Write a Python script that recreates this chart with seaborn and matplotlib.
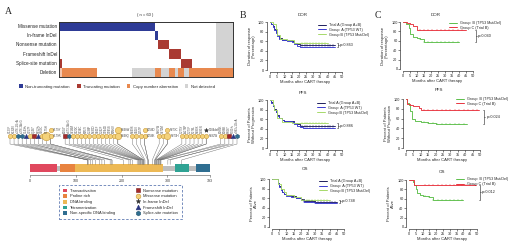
import numpy as np
import pandas as pd
import matplotlib
matplotlib.use("Agg")
import matplotlib.pyplot as plt
import seaborn as sns
from matplotlib.colors import ListedColormap
from matplotlib.patches import Patch, Rectangle
from matplotlib.lines import Line2D

sns.set_theme(style="white")
plt.rcParams['font.family'] = ['Liberation Sans', 'DejaVu Sans']

# ---------------- data: oncoprint ----------------
onco_rows = ["Missense mutation", "In-frame InDel", "Nonsense mutation",
             "Frameshift InDel", "Splice-site mutation", "Deletion"]
missense_row = "1" * 33 + "0" * 21 + "4" * 6
inframe_row = "0" * 33 + "1" + "0" * 20 + "4" * 6
nonsense_row = "0" * 34 + "2222" + "0" * 16 + "4" * 6
frameshift_row = "0" * 38 + "2222" + "0" * 12 + "4" * 6
splice_row = "2" + "0" * 41 + "2222" + "0" * 8 + "4" * 6
deletion_row = "5" + "3" * 12 + "0" * 12 + "4" * 8 + "33" + "444" + "33" + "4" + "33" + "44" + "3" * 15
onco_legend = ["Non-truncating mutation", "Truncating mutation", "Copy number aberration", "Not detected"]

# ---------------- data: lollipop ----------------
dom_names = ["Transactivation", "Proline rich", "DNA binding", "Tetramerization", "Non-specific DNA binding"]
dom_start = [1, 66, 98, 317, 362]
dom_end = [59, 98, 290, 347, 393]
mut_label = ["S127F", "K132N", "c.376-1G>A", "c.376-2A>G", "V143fs", "V157F", "Q136*", "P152fs", "Y163C",
             "R175H", "H179R", "H179Y", "E204*", "c.673-2A>G", "V216M", "Y220C", "Y234C", "M237I", "C238F",
             "N239D", "S241F", "C242F", "G244D", "G245S", "M246V", "R248Q", "R248W", "R249S", "I251N",
             "L257P", "E258K", "E258D", "R267W", "V272M", "R273H", "R273C", "C275Y", "A276P", "C277F",
             "P278L", "R280K", "D281N", "R282W", "T284del", "E285K", "E286K", "R306*", "P301fs", "c.993+1G>A"]
mut_pos = [127, 132, 125, 126, 143, 157, 136, 152, 163, 175, 179, 179, 204, 224, 216, 220, 234, 237, 238,
           239, 241, 242, 244, 245, 246, 248, 248, 249, 251, 257, 258, 258, 267, 272, 273, 273, 275, 276, 277,
           278, 280, 281, 282, 284, 285, 286, 306, 301, 331]
mut_type = ["mis", "mis", "spl", "spl", "frm", "mis", "non", "frm", "mis",
            "mis", "mis", "mis", "non", "spl", "mis", "mis", "mis", "mis", "mis",
            "mis", "mis", "mis", "mis", "mis", "mis", "mis", "mis", "mis", "mis",
            "mis", "mis", "mis", "mis", "mis", "mis", "mis", "mis", "mis", "mis",
            "mis", "mis", "mis", "mis", "inf", "mis", "mis", "non", "frm", "spl"]
mut_count = [1, 1, 1, 1, 1, 1, 1, 1, 1, 3, 1, 1, 1, 1, 1, 1, 1, 1, 1, 1, 1, 1, 1, 1, 1, 2, 2, 1, 1,
             1, 1, 1, 1, 1, 2, 1, 1, 1, 1, 1, 1, 1, 1, 1, 1, 1, 1, 1, 1]
mut_stack = [0, 0, 0, 0, 0, 0, 0, 0, 0, 0, 0, 1, 0, 0, 0, 0, 0, 0, 0, 0, 0, 0, 0, 0, 0, 0, 1, 0, 0,
             0, 0, 1, 0, 0, 0, 1, 0, 0, 0, 0, 0, 0, 0, 1, 0, 0, 0, 0, 0]

# ---------------- data: KM curves ----------------
months_ticks = [0, 5, 10, 15, 20, 25, 30, 35, 40, 45, 50]
pct_ticks = [0, 20, 40, 60, 80, 100]

b_dor_trialA_t = [0, 1, 2, 3, 4, 5, 6, 8, 12, 15, 17, 19, 21, 45]
b_dor_trialA_s = [100, 96, 92, 86, 80, 72, 66, 63, 62, 60, 57, 54, 52, 52]
b_dor_groupA_t = [0, 1, 2, 3, 4, 5, 6, 8, 12, 15, 17, 19, 21, 45]
b_dor_groupA_s = [100, 95, 90, 84, 78, 70, 65, 62, 61, 58, 55, 50, 47, 47]
b_dor_groupB_t = [0, 2, 4, 5, 7, 12, 17, 40]
b_dor_groupB_s = [100, 95, 85, 72, 65, 62, 56, 56]

b_pfs_trialA_t = [0, 1, 2, 3, 4, 5, 6, 8, 10, 15, 17, 19, 21, 23, 45]
b_pfs_trialA_s = [100, 95, 88, 82, 75, 68, 62, 58, 57, 56, 52, 49, 46, 45, 45]
b_pfs_groupA_t = [0, 1, 2, 3, 4, 5, 6, 8, 10, 15, 17, 19, 21, 23, 45]
b_pfs_groupA_s = [100, 94, 87, 80, 74, 67, 62, 58, 57, 55, 50, 46, 43, 41, 41]
b_pfs_groupB_t = [0, 2, 3, 5, 8, 15, 20, 40]
b_pfs_groupB_s = [100, 90, 80, 62, 55, 53, 52, 52]

b_os_trialA_t = [0, 4, 5, 6, 7, 8, 10, 13, 17, 20, 22, 30, 45]
b_os_trialA_s = [100, 92, 85, 79, 73, 69, 66, 64, 61, 58, 55, 53, 53]
b_os_groupA_t = [0, 4, 5, 6, 7, 8, 10, 13, 17, 20, 22, 30, 45]
b_os_groupA_s = [100, 91, 84, 78, 72, 68, 65, 63, 60, 57, 53, 50, 50]
b_os_groupB_t = [0, 4, 6, 8, 10, 15, 20, 40]
b_os_groupB_s = [100, 90, 80, 72, 66, 62, 57, 57]

c_dor_groupB_t = [0, 2, 4, 5, 7, 10, 12, 15, 40]
c_dor_groupB_s = [100, 96, 88, 74, 68, 65, 63, 58, 58]
c_dor_groupC_t = [0, 3, 5, 7, 10, 45]
c_dor_groupC_s = [100, 98, 95, 91, 84, 84]

c_pfs_groupB_t = [0, 1, 2, 3, 4, 6, 10, 15, 20, 41]
c_pfs_groupB_s = [100, 92, 88, 75, 60, 56, 54, 51, 49, 49]
c_pfs_groupC_t = [0, 1, 3, 5, 9, 10, 49]
c_pfs_groupC_s = [100, 90, 88, 85, 82, 78, 78]

c_os_groupB_t = [0, 3, 4, 5, 6, 8, 10, 15, 18, 40]
c_os_groupB_s = [100, 95, 90, 80, 73, 68, 65, 63, 58, 58]
c_os_groupC_t = [0, 4, 49]
c_os_groupC_s = [100, 90, 90]

censor_b = [22, 24, 26, 28, 30, 32, 34, 36, 38, 40, 42, 44]
censor_c = [12, 15, 18, 21, 24, 27, 30, 33, 36, 39, 42, 45, 48]

# ---------------- figure ----------------
W, H = 520, 245
fig = plt.figure(figsize=(W / 100, H / 100), dpi=100)


def axes_px(x0, y0, x1, y1):
    return fig.add_axes([x0 / W, 1 - y1 / H, (x1 - x0) / W, (y1 - y0) / H])


def ftext(x, y, s, **kw):
    fig.text(x / W, 1 - y / H, s, **kw)


serif = ['Liberation Serif', 'DejaVu Serif']
ftext(5, 12, "A", fontsize=7, family=serif, va='center')
ftext(240, 15, "B", fontsize=7, family=serif, va='center')
ftext(375, 15, "C", fontsize=7, family=serif, va='center')

# ---------- oncoprint ----------
navy, tred, orng, grey, pink = "#2E3B96", "#A93A32", "#E8894F", "#D3D3D3", "#F5C6AE"
mat = np.array([[int(c) for c in r] for r in
                [missense_row, inframe_row, nonsense_row, frameshift_row, splice_row, deletion_row]])
ax_on = axes_px(59, 22, 233, 77)
sns.heatmap(mat, cmap=ListedColormap(["white", navy, tred, orng, grey, pink]), vmin=-0.5, vmax=5.5,
            cbar=False, ax=ax_on, xticklabels=False, yticklabels=onco_rows)
for sp in ax_on.spines.values():
    sp.set_visible(True)
    sp.set_linewidth(0.7)
    sp.set_color("#333333")
ax_on.tick_params(axis='y', length=0, pad=1.5, labelsize=3.3, labelcolor="#222222")
ax_on.tick_params(axis='x', length=0)
ftext(145, 15, "( n = 60 )", fontsize=3, ha='center', va='center')
oh = [Patch(facecolor=c, edgecolor='none', label=l) for c, l in zip([navy, tred, orng, grey], onco_legend)]
fig.legend(handles=oh, loc='center', bbox_to_anchor=(117 / W, 1 - 86.5 / H), ncol=4, fontsize=3.1,
           frameon=False, handlelength=0.9, handleheight=0.9, columnspacing=1.6, handletextpad=0.5)

# ---------- lollipop ----------
PX0, PXS = 30.0, 0.458
def px2aa(p):
    return (p - PX0) / PXS

lol = axes_px(5, 108, 245, 186)
lol.set_xlim(px2aa(5), px2aa(245))
lol.set_ylim(186, 108)
lol.axis('off')
dom_colors = ["#E0485E", "#E8833F", "#EDB955", "#2FA394", "#2F6E91"]
lol.add_patch(Rectangle((1, 166), 392, 5, fc="#BDBDBD", ec='none'))
for s, e, c in zip(dom_start, dom_end, dom_colors):
    lol.add_patch(Rectangle((s, 164.5), e - s, 8, fc=c, ec='none'))
lol.plot([0, 393], [175.5, 175.5], color="#555555", lw=0.4)
for tk in [0, 100, 200, 300, 393]:
    lol.plot([tk, tk], [175.5, 177], color="#555555", lw=0.4)
    lol.text(tk, 180.5, str(tk), fontsize=2.6, ha='center', va='center', color="#333333")

mstyle = {"mis": ('o', "#F4D27A", "#C99A3A"), "non": ('s', "#A52A2A", "#7A1F1F"),
          "frm": ('^', "#2A3580", "#2A3580"), "inf": ('*', "#333333", "#333333"),
          "spl": ('h', "#2F6E91", "#24566F")}
groups = []
for i, st in enumerate(mut_stack):
    if st == 0:
        groups.append([i])
    else:
        groups[-1].append(i)
offs, cur = [], 0.0
for g in groups:
    offs.append(cur + 0.5)
    cur += 1.0 if len(g) == 1 else 3.6
offs = np.array(offs)
slot_px = 10 + (offs - offs.min()) / (offs.max() - offs.min()) * 227
for g, xp in zip(groups, slot_px):
    xa = px2aa(xp)
    for i in g:
        pos = mut_pos[i]
        lol.plot([xa, xa, pos, pos], [138.5, 144, 160, 164.5], color="#666666", lw=0.3, zorder=1)
    for k, i in enumerate(g):
        y = 136 - 6 * k
        m, fc, ec = mstyle[mut_type[i]]
        ms = 3.1 + 1.5 * (mut_count[i] - 1)
        lol.plot([xa], [y], marker=m, ms=ms, mfc=fc, mec=ec, mew=0.4, ls='none', zorder=3)
        if len(g) == 1:
            lol.text(xa, y - 3.2, mut_label[i], rotation=90, fontsize=2.0, ha='center', va='bottom',
                     color="#444444")
        else:
            lol.text(px2aa(xp + 2.4 + 0.6 * (mut_count[i] - 1)), y, mut_label[i], fontsize=2.0,
                     ha='left', va='center', color="#444444")

lh = [Patch(facecolor=c, edgecolor='none', label=n) for c, n in zip(dom_colors, dom_names)]
for lab, key in [("Nonsense mutation", "non"), ("Missense mutation", "mis"), ("In-frame InDel", "inf"),
                 ("Frameshift InDel", "frm"), ("Splice-site mutation", "spl")]:
    m, fc, ec = mstyle[key]
    lh.append(Line2D([], [], marker=m, ls='none', mfc=fc, mec=ec, ms=3.4, mew=0.4, label=lab))
leg = fig.legend(handles=lh, loc='center', bbox_to_anchor=(120.5 / W, 1 - 202 / H), ncol=2, fontsize=2.9,
                 frameon=True, fancybox=False, edgecolor="#3A5BA0", handlelength=1.0, handleheight=1.0,
                 borderpad=0.9, labelspacing=0.35, columnspacing=5, handletextpad=0.8)
leg.get_frame().set_linestyle((0, (3, 2)))
leg.get_frame().set_linewidth(0.6)


# ---------- KM panels ----------
def surv_at(t, s, x):
    idx = np.searchsorted(np.array(t), x, side='right') - 1
    return s[max(idx, 0)]


def km_axes(x0, x50, y100, y0):
    sx = (x50 - x0) / 50.0
    sy = (y0 - y100) / 100.0
    ax = axes_px(x0 - 2 * sx, y0 - 103 * sy, x0 + 51 * sx, y0 + 4 * sy)
    ax.set_xlim(-2, 51)
    ax.set_ylim(-4, 103)
    return ax


def km_panel(ax, curves, title, ylabel, pval, title_xy, leg_xy, bracket_x):
    rows = []
    for name, t, s, c in curves:
        for ti, si in zip(t, s):
            rows.append((name, ti, si))
    df = pd.DataFrame(rows, columns=["group", "time", "surv"])
    pal = {name: c for name, t, s, c in curves}
    sns.lineplot(data=df, x="time", y="surv", hue="group", palette=pal, drawstyle='steps-post',
                 estimator=None, sort=False, legend=False, ax=ax, linewidth=0.65)
    for name, t, s, c in curves:
        cs = censor_b if len(curves) == 3 else censor_c
        ct = [x for x in cs if x < t[-1]]
        ax.plot(ct, [surv_at(t, s, x) for x in ct], ls='none', marker='|', ms=1.6, mew=0.35, color=c)
    sns.despine(ax=ax)
    ax.spines['left'].set_bounds(0, 100)
    ax.spines['bottom'].set_bounds(0, 50)
    for sp in ['left', 'bottom']:
        ax.spines[sp].set_linewidth(0.45)
        ax.spines[sp].set_color("#222222")
    ax.set_xticks(months_ticks)
    ax.set_yticks(pct_ticks)
    ax.tick_params(labelsize=2.7, length=1.3, width=0.4, pad=0.6, colors="#222222", direction='out',
                   bottom=True, left=True)
    ax.set_xlabel("Months after CART therapy", fontsize=3, labelpad=1)
    ax.set_ylabel(ylabel, fontsize=3, labelpad=1.5, linespacing=1.0)
    ftext(title_xy[0], title_xy[1], title, fontsize=3.2, ha='center', va='center')
    hs = [Line2D([], [], color=c, lw=0.7, label=name) for name, t, s, c in curves]
    ax.legend(handles=hs, loc='upper left', bbox_to_anchor=(leg_xy[0] / W, 1 - leg_xy[1] / H),
              bbox_transform=fig.transFigure, fontsize=2.7, frameon=False, handlelength=2.2,
              labelspacing=0.25, borderpad=0, handletextpad=0.8)
    ends = [s[-1] for name, t, s, c in curves]
    lo, hi = min(ends), max(ends)
    bx = bracket_x
    ax.plot([bx - 0.8, bx, bx, bx - 0.8], [hi, hi, lo, lo], color="#222222", lw=0.4, clip_on=False)
    ax.plot([bx, bx + 0.7], [(hi + lo) / 2] * 2, color="#222222", lw=0.4, clip_on=False)
    ax.text(bx + 1.3, (hi + lo) / 2, pval, fontsize=2.7, va='center', ha='left')


cA, cAw, cBm = "#1F1F5C", "#3A3AD0", "#A6D96A"
cB2, cC2 = "#5CBF4A", "#E8343F"
lab_tA, lab_gA, lab_gB = "Trial A (Group A+B)", "Group  A (TP53 WT)", "Group B (TP53 Mut/Del)"
lab_gB2, lab_gC = "Group  B (TP53 Mut/Del)", "Group C (Trial B)"

ax = km_axes(270, 342, 22, 70)
km_panel(ax, [(lab_tA, b_dor_trialA_t, b_dor_trialA_s, cA), (lab_gA, b_dor_groupA_t, b_dor_groupA_s, cAw),
              (lab_gB, b_dor_groupB_t, b_dor_groupB_s, cBm)],
         "DOR", "Duration of response\n(Percentage)", "p=0.863", (303, 15), (316, 21), 47)
ax = km_axes(270, 342, 100, 148)
km_panel(ax, [(lab_tA, b_pfs_trialA_t, b_pfs_trialA_s, cA), (lab_gA, b_pfs_groupA_t, b_pfs_groupA_s, cAw),
              (lab_gB, b_pfs_groupB_t, b_pfs_groupB_s, cBm)],
         "PFS", "Percent of Patients\nWithout Progression", "p=0.886", (303, 93), (315, 99), 47)
ax = km_axes(272, 344, 179, 227)
km_panel(ax, [(lab_tA, b_os_trialA_t, b_os_trialA_s, cA), (lab_gA, b_os_groupA_t, b_os_groupA_s, cAw),
              (lab_gB, b_os_groupB_t, b_os_groupB_s, cBm)],
         "OS", "Percent of Patients\nAlive", "p=0.748", (305, 169), (317, 177), 47)

ax = km_axes(403, 473, 22, 69)
km_panel(ax, [(lab_gB2, c_dor_groupB_t, c_dor_groupB_s, cB2), (lab_gC, c_dor_groupC_t, c_dor_groupC_s, cC2)],
         "DOR", "Duration of response\n(Percentage)", "p=0.040", (436, 15), (447, 19), 52)
ax = km_axes(406, 480, 99, 148)
km_panel(ax, [(lab_gB2, c_pfs_groupB_t, c_pfs_groupB_s, cB2), (lab_gC, c_pfs_groupC_t, c_pfs_groupC_s, cC2)],
         "PFS", "Percent of Patients\nWithout Progression", "p=0.024", (439, 90), (454, 95), 53)
ax = km_axes(409, 477, 180, 227)
km_panel(ax, [(lab_gB2, c_os_groupB_t, c_os_groupB_s, cB2), (lab_gC, c_os_groupC_t, c_os_groupC_s, cC2)],
         "OS", "Percent of Patients\nAlive", "p=0.012", (442, 172), (454, 175), 52)

fig.savefig("out.png", dpi=100)
